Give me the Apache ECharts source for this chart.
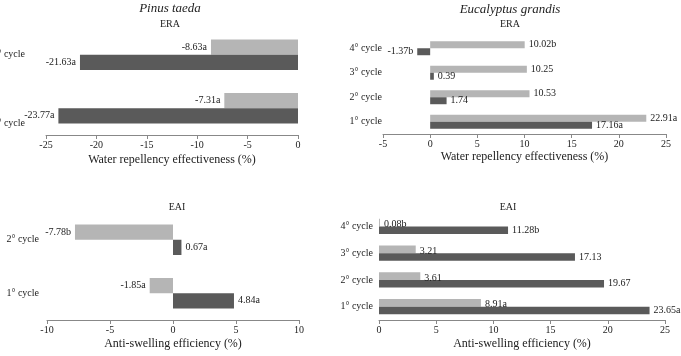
<!DOCTYPE html>
<html>
<head>
<meta charset="utf-8">
<script src="https://cdn.jsdelivr.net/npm/echarts@6/dist/echarts.min.js"></script>
<style>
html, body { margin: 0; padding: 0; background: #fff; }
#chart { width: 681px; height: 356px; }
</style>
</head>
<body>
<div id="chart"></div>
<script>
// categories (bottom to top)
const pinusCycles = ['1° cycle', '2° cycle']
const eucaCycles = ['1° cycle', '2° cycle', '3° cycle', '4° cycle']

// Pinus taeda - ERA
const pinusEraLight = [-7.31, -8.63]
const pinusEraLightTag = ['a', 'a']
const pinusEraDark = [-23.77, -21.63]
const pinusEraDarkTag = ['a', 'a']

// Eucalyptus grandis - ERA
const eucaEraLight = [22.91, 10.53, 10.25, 10.02]
const eucaEraLightTag = ['a', '', '', 'b']
const eucaEraDark = [17.16, 1.74, 0.39, -1.37]
const eucaEraDarkTag = ['a', '', '', 'b']

// Pinus taeda - EAI
const pinusEaiLight = [-1.85, -7.78]
const pinusEaiLightTag = ['a', 'b']
const pinusEaiDark = [4.84, 0.67]
const pinusEaiDarkTag = ['a', 'a']

// Eucalyptus grandis - EAI
const eucaEaiLight = [8.91, 3.61, 3.21, 0.08]
const eucaEaiLightTag = ['a', '', '', 'b']
const eucaEaiDark = [23.65, 19.67, 17.13, 11.28]
const eucaEaiDarkTag = ['a', '', '', 'b']

const FONT = "'Liberation Serif', 'Times New Roman', serif"
const LIGHT = '#b5b5b5'
const DARK = '#5a5a5a'
const TEXT = '#222'

function bars(idx, values, tags, color, offset) {
  return {
    type: 'bar',
    xAxisIndex: idx,
    yAxisIndex: idx,
    barGap: '0%',
    barCategoryGap: '43%',
    itemStyle: { color: color },
    silent: true,
    data: values.map(v => ({
      value: v,
      label: { position: v < 0 ? 'left' : 'right' },
    })),
    label: {
      show: true,
      distance: 4,
      offset: offset || [0, 0],
      color: TEXT,
      fontFamily: FONT,
      fontSize: 10,
      formatter: p => p.value.toFixed(2) + tags[p.dataIndex],
    },
  }
}

function xAxis(idx, min, max, name, gap) {
  return {
    type: 'value',
    gridIndex: idx,
    min: min,
    max: max,
    interval: 5,
    splitLine: { show: false },
    axisLine: { show: true, onZero: false, lineStyle: { color: '#888' } },
    axisTick: { show: true, length: 4, lineStyle: { color: '#888' } },
    axisLabel: { color: TEXT, fontFamily: FONT, fontSize: 10, margin: 5 },
    name: name,
    nameLocation: 'middle',
    nameGap: gap,
    nameTextStyle: { color: TEXT, fontFamily: FONT, fontSize: 12 },
  }
}

function yAxis(idx, cats, margin, formatter) {
  return {
    type: 'category',
    gridIndex: idx,
    data: cats,
    axisLine: { show: false, onZero: false },
    axisTick: { show: false },
    axisLabel: {
      color: TEXT,
      fontFamily: FONT,
      fontSize: 10,
      margin: margin,
      formatter: formatter,
      rich: { low: { fontFamily: FONT, fontSize: 10, color: TEXT, padding: [30, 0, 0, 0] } },
    },
  }
}

function title(text, x, y, italic, size) {
  return {
    text: text,
    left: x,
    top: y,
    textAlign: 'center',
    padding: 0,
    textStyle: {
      color: TEXT,
      fontFamily: FONT,
      fontSize: size,
      fontWeight: 'normal',
      fontStyle: italic ? 'italic' : 'normal',
    },
  }
}

const chart = echarts.init(document.getElementById('chart'))
chart.setOption({
  backgroundColor: '#fff',
  animation: false,
  title: [
    title('Pinus taeda', 170, 2, true, 13),
    title('ERA', 170, 19, false, 10),
    title('Eucalyptus grandis', 510, 3, true, 13),
    title('ERA', 510, 19, false, 10),
    title('EAI', 177, 202, false, 10),
    title('EAI', 508, 202, false, 10),
  ],
  grid: [
    { left: 46, top: 28, width: 252, height: 107, outerBoundsMode: 'none' },
    { left: 383, top: 36, width: 283, height: 98, outerBoundsMode: 'none' },
    { left: 47, top: 213, width: 252, height: 107, outerBoundsMode: 'none' },
    { left: 379, top: 213, width: 286, height: 107, outerBoundsMode: 'none' },
  ],
  xAxis: [
    xAxis(0, -25, 0, 'Water repellency effectiveness (%)', 19),
    xAxis(1, -5, 25, 'Water repellency effectiveness (%)', 17),
    xAxis(2, -10, 10, 'Anti-swelling efficiency (%)', 18),
    xAxis(3, 0, 25, 'Anti-swelling efficiency (%)', 18),
  ],
  yAxis: [
    yAxis(0, pinusCycles, 21, v => (v === '1° cycle' ? '{low|' + v + '}' : v)),
    yAxis(1, eucaCycles, 1),
    yAxis(2, pinusCycles, 8),
    yAxis(3, eucaCycles, 6),
  ],
  series: [
    bars(0, pinusEraLight, pinusEraLightTag, LIGHT),
    bars(0, pinusEraDark, pinusEraDarkTag, DARK),
    bars(1, eucaEraLight, eucaEraLightTag, LIGHT),
    bars(1, eucaEraDark, eucaEraDarkTag, DARK),
    bars(2, pinusEaiLight, pinusEaiLightTag, LIGHT),
    bars(2, pinusEaiDark, pinusEaiDarkTag, DARK),
    bars(3, eucaEaiLight, eucaEaiLightTag, LIGHT, [0, 2]),
    bars(3, eucaEaiDark, eucaEaiDarkTag, DARK),
  ],
})
</script>
</body>
</html>
